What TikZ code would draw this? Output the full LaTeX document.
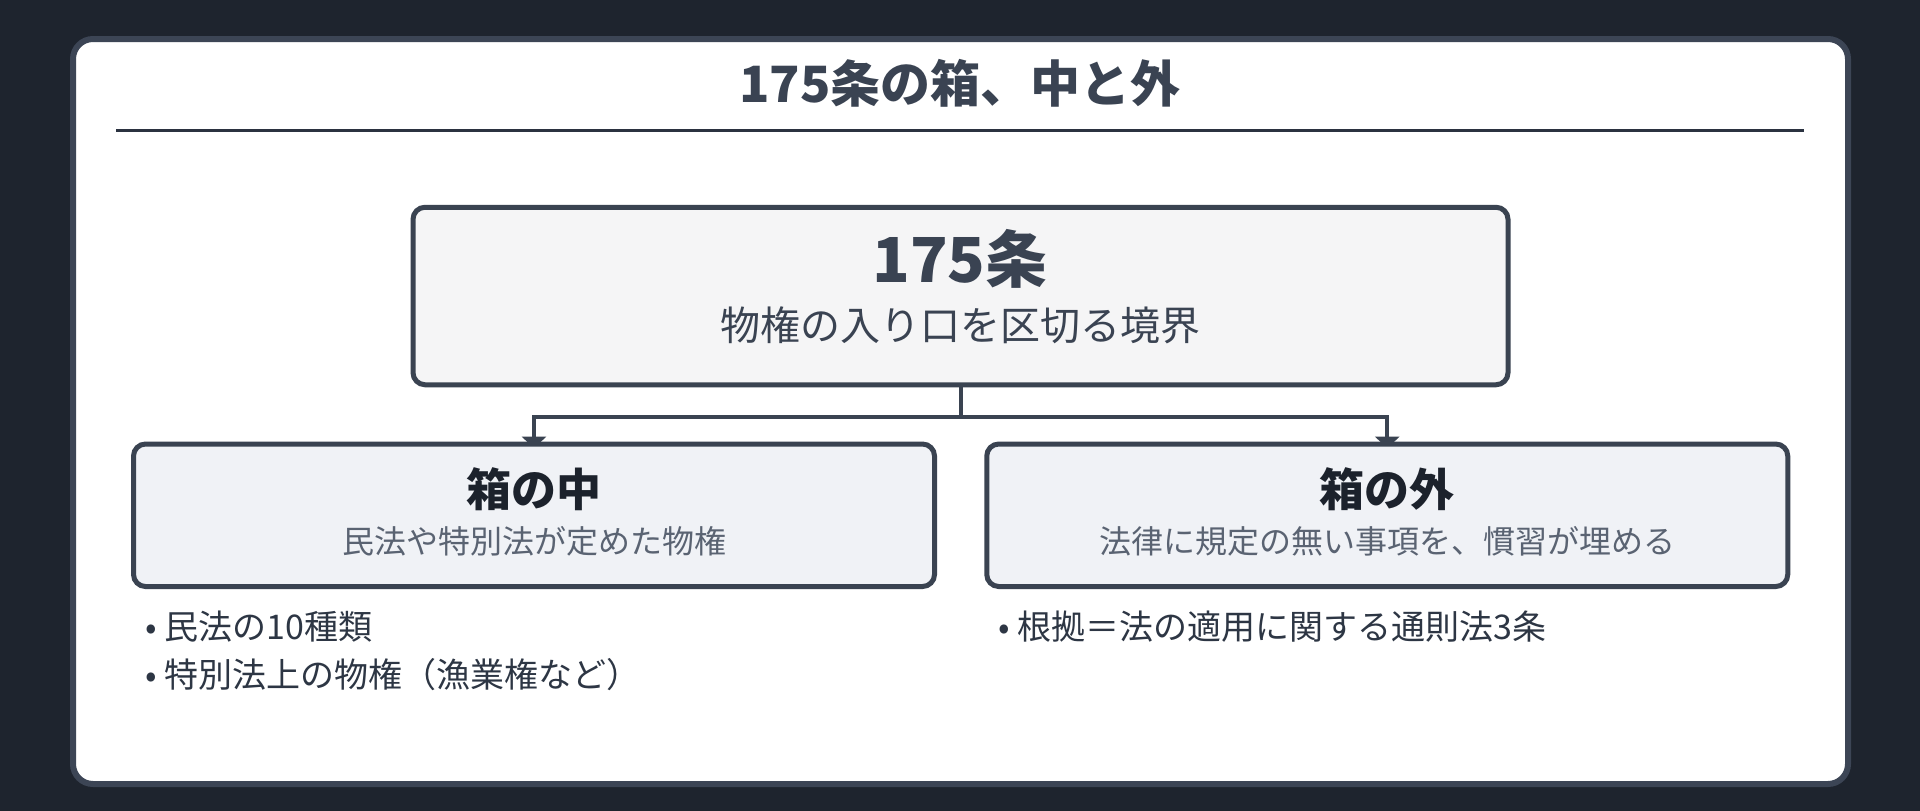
\documentclass[tikz,border=0pt]{standalone}
\usepackage{fontspec}
\setmainfont{Noto Sans CJK JP}
\usetikzlibrary{positioning}
\usetikzlibrary{arrows.meta}

\definecolor{pagebg}{HTML}{1E242E}
\definecolor{cardline}{HTML}{3C4555}
\definecolor{rulecol}{HTML}{2B3240}
\definecolor{boxline}{HTML}{3A4351}
\definecolor{topfill}{HTML}{F5F5F6}
\definecolor{subfill}{HTML}{F0F2F6}
\definecolor{titletext}{HTML}{3A4352}
\definecolor{headtext}{HTML}{1C222C}
\definecolor{subtext}{HTML}{5A6372}
\definecolor{itemtext}{HTML}{2D3644}

\pgfdeclarelayer{front}
\pgfsetlayers{main,front}

\tikzset{
  mainbox/.style={draw=boxline,line width=5pt,rounded corners=12pt,fill=topfill,
    minimum width=1095pt,minimum height=177.5pt,inner sep=0pt},
  sidebox/.style={draw=boxline,line width=5pt,rounded corners=12pt,fill=subfill,
    minimum width=801pt,minimum height=142.5pt,inner sep=0pt},
  link/.style={draw=boxline,line width=4pt,shorten >=-7pt,
    -{Triangle[width=24pt,length=12pt]}},
  itemline/.style={font=\fontsize{34}{40}\selectfont,text=itemtext,anchor=west,inner sep=0pt}
}

\begin{document}
\begin{tikzpicture}[x=1pt,y=-1pt]
\fill[pagebg] (0,0) rectangle (1920,811);
\draw[fill=white,draw=cardline,line width=6pt,rounded corners=20pt] (73,39) rectangle (1848,784);
\node[font=\fontsize{50}{56}\selectfont\bfseries,text=titletext,inner sep=0pt] (title) at (960,83) {175条の箱、中と外};
\draw[rulecol,line width=3pt] (116,130.5) -- (1804,130.5);

\begin{pgfonlayer}{front}
\node[mainbox] (rule) at (960.5,296) {};
\node[sidebox] (inside) at (534,515.25) {};
\node[sidebox] (outside) at (1387.25,515.25) {};

\node[font=\fontsize{62}{70}\selectfont\bfseries,text=titletext,inner sep=0pt] (rulehead) at (960,259) {175条};
\node[font=\fontsize{40}{46}\selectfont,text=titletext,inner sep=0pt] (rulesub) at (960,325) {物権の入り口を区切る境界};

\node[font=\fontsize{45}{52}\selectfont\bfseries,text=headtext,inner sep=0pt] (inhead) at (534,489) {箱の中};
\node[font=\fontsize{32}{38}\selectfont,text=subtext,inner sep=0pt] (insub) at (534,541) {民法や特別法が定めた物権};
\node[font=\fontsize{45}{52}\selectfont\bfseries,text=headtext,inner sep=0pt] (outhead) at (1387,489) {箱の外};
\node[font=\fontsize{32}{38}\selectfont,text=subtext,inner sep=0pt] (outsub) at (1387,541) {法律に規定の無い事項を、慣習が埋める};
\end{pgfonlayer}

% connectors under the boxes
\draw[link] (rule.south) -- ++(0,30) -| (inside.north);
\draw[link] (rule.south) -- ++(0,30) -| (outside.north);

\node[itemline] (inone) at (145,627) {• 民法の10種類};
\node[itemline] (intwo) at (145,675) {• 特別法上の物権（漁業権など）};
\node[itemline] (outone) at (998,627) {• 根拠＝法の適用に関する通則法3条};

\end{tikzpicture}
\end{document}
